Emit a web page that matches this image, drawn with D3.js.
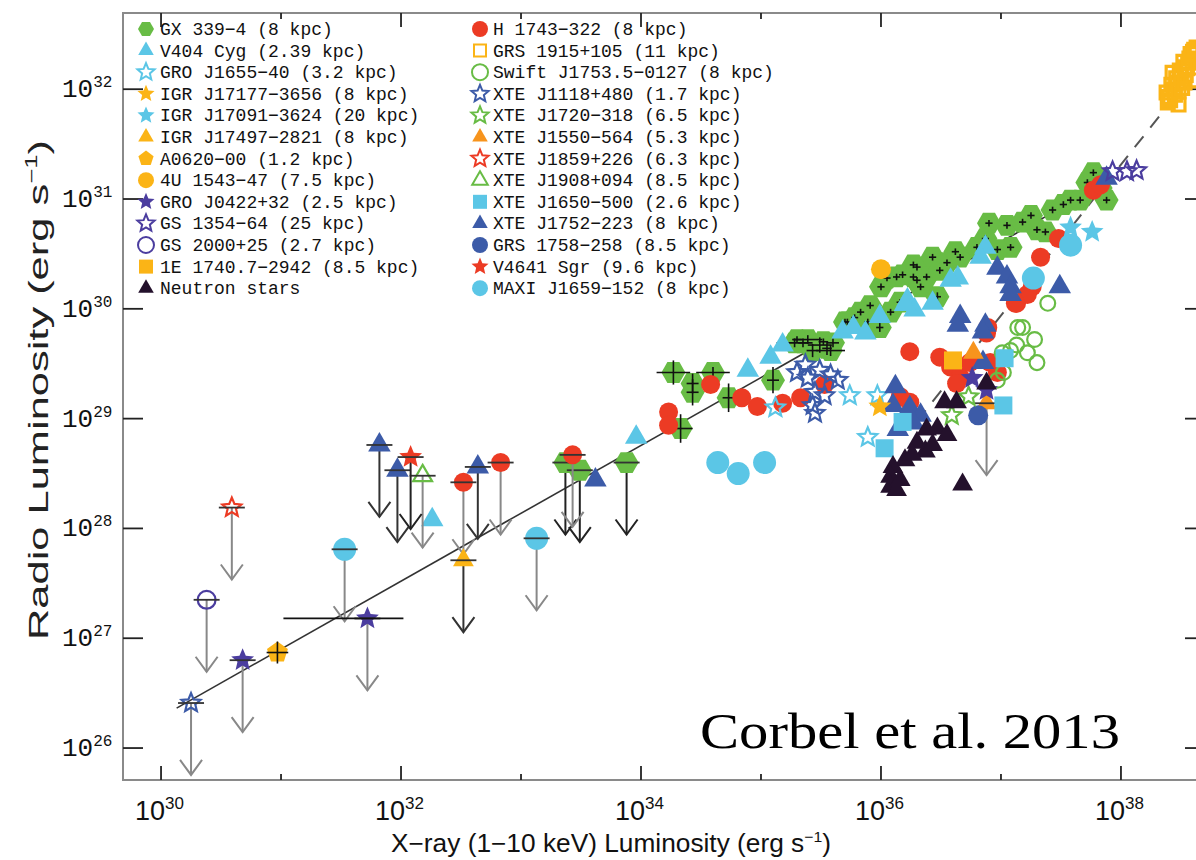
<!DOCTYPE html>
<html><head><meta charset="utf-8">
<script src="https://cdn.jsdelivr.net/npm/d3@7"></script>
<style>body{margin:0;background:#fff;} svg{display:block;}</style>
</head><body>
<svg id="chart" width="1196" height="860"></svg>
<script>
// ---------- DATA (log10 of luminosity in erg/s: [log Lx, log Lr, (xerr dex), (yerr dex)]) ----------
const xTickExps = [30, 31, 32, 33, 34, 35, 36, 37, 38];
const xLabelExps = [30, 32, 34, 36, 38];
const yTickExps = [26, 27, 28, 29, 30, 31, 32];

const gx339 = [
  [34.33,28.91,0.10,0.13],[34.27,29.42,0.14,0.11],[34.43,29.32,0.05,0.09],[34.43,29.24,0.05,0.12],
  [34.60,29.42,0.14,0.05],[34.73,29.19,0.05,0.13],[35.10,29.35,0.05,0.12],[35.28,29.69,0.15,0.04],
  [35.39,29.72,0.12,0.04],[35.49,29.67,0.10,0.07],[35.58,29.62,0.12,0.05],[35.43,29.62,0.05,0.06],
  [35.60,29.69,0.05,0.04],[35.35,29.69,0.04,0.04],[35.55,29.64,0.04,0.06],[35.72,29.88,0.03,0.03],
  [35.78,29.92,0.03,0.03],[35.83,29.97,0.03,0.03],[35.91,30.03,0.03,0.03],[35.99,29.83,0.03,0.04],
  [36.08,29.97,0.03,0.03],[36.16,30.06,0.03,0.03],[36.00,30.20,0.03,0.03],[36.05,30.28,0.03,0.03],
  [36.13,30.29,0.03,0.03],[36.27,30.40,0.03,0.03],[36.30,30.26,0.03,0.03],[36.18,30.31,0.03,0.03],
  [36.30,30.38,0.03,0.03],[36.43,30.47,0.03,0.03],[36.55,30.42,0.03,0.03],[36.66,30.47,0.03,0.03],
  [36.80,30.56,0.03,0.03],[37.05,30.76,0.03,0.03],[37.08,30.56,0.03,0.03],[37.30,30.72,0.03,0.03],
  [37.43,30.90,0.03,0.03],[37.58,30.99,0.03,0.03],[37.72,31.15,0.03,0.03],[37.77,31.24,0.03,0.03],
  [37.88,30.99,0.03,0.03],[36.33,30.20,0.03,0.03],[36.47,30.11,0.03,0.04],[36.38,30.29,0.03,0.03],
  [36.27,30.29,0.03,0.03],[35.30,29.72,0.04,0.03],[35.52,29.70,0.04,0.03],[35.70,29.88,0.03,0.03],
  [35.89,29.88,0.03,0.03],[36.87,30.64,0.03,0.03],[36.97,30.54,0.03,0.03],[37.18,30.79,0.03,0.03],
  [37.37,30.70,0.03,0.03],[37.52,30.95,0.03,0.03],[37.66,30.99,0.03,0.03],[37.83,31.10,0.03,0.03],
  [36.49,30.35,0.03,0.03],[36.62,30.52,0.03,0.03],[36.90,30.78,0.03,0.03],[37.25,30.85,0.03,0.03]
];
const gx339UL = [[33.37,28.60],[33.49,28.53],[33.88,28.60]];
const v404 = [
  [32.26,28.08],[33.96,28.83],[34.89,29.44],[35.08,29.56],[35.18,29.67],[35.68,29.79],[35.77,29.83],
  [35.87,29.78],[35.99,29.93],[36.22,30.08],[36.28,29.99],[36.43,30.05],[36.64,30.28],[36.58,30.26],
  [36.87,30.56],[36.83,30.47],[36.20,30.04]
];
const gro1655 = [[35.12,29.10],[35.74,29.21],[35.89,28.83],[35.97,29.21]];
const igr17177 = [[35.99,29.11]];
const igr17091 = [[37.58,30.74],[37.76,30.70]];
const igr17497UL = [[32.52,27.71]];
const a0620 = [[30.97,26.87,0.09,0.10]];
const u1543 = [[36.00,30.36]];
const gro0422 = [[36.76,29.37],[36.88,29.26]];
const gro0422UL = [[30.68,26.80],[31.72,27.18]];
const gs1354 = [[37.93,31.25],[38.05,31.25],[38.13,31.26]];
const gs2000UL = [[30.38,27.35]];
const e1740 = [[36.60,29.53]];
const neutronStars = [
  [36.53,29.15],[36.63,29.15],[36.38,28.90],[36.47,28.91],[36.55,28.85],[36.30,28.78],[36.37,28.70],
  [36.43,28.76],[36.20,28.62],[36.10,28.56],[36.08,28.47],[36.08,28.38],[36.13,28.35],[36.68,28.40],
  [36.88,29.32],[36.26,28.67],[36.16,28.44]
];
const h1743 = [
  [34.23,29.06],[34.23,28.94],[34.58,29.31],[34.84,29.19],[34.97,29.11],[35.18,29.14],[35.33,29.19],
  [35.53,29.31],[36.24,29.61],[36.49,29.56],[36.58,29.47],[36.66,29.38],[36.63,29.32],[36.74,29.51],
  [36.91,29.51],[36.88,29.78],[36.97,29.42],[36.16,29.20],[36.24,29.15],[37.77,31.08],[37.48,30.64],
  [37.33,30.47],[37.26,30.20],[37.13,30.05],[36.89,29.83],[37.22,30.13],[37.12,30.05],[37.83,31.13]
];
const h1743UL = [[32.52,28.42],[32.83,28.60],[33.43,28.67]];
const grs1915 = [
  [38.41,31.90],[38.38,31.97],[38.42,32.04],[38.45,31.95],[38.48,31.86],[38.46,32.10],[38.51,32.01],
  [38.49,32.17],[38.54,32.13],[38.52,32.25],[38.57,32.28],[38.55,32.19],[38.60,32.34],[38.62,32.25],
  [38.59,32.08],[38.39,31.88],[38.43,32.15],[38.63,32.38],[38.40,31.93],[38.44,32.00],[38.47,32.06],
  [38.50,32.12],[38.53,32.20],[38.56,32.24],[38.58,32.32],[38.61,32.36],[38.48,31.98],[38.53,32.06]
];
const swift1753 = [
  [37.39,30.05],[37.14,29.83],[37.18,29.83],[37.28,29.72],[37.22,29.60],[37.30,29.51],[37.08,29.62],
  [37.01,29.60],[37.13,29.67],[36.97,29.35],[37.02,29.42]
];
const xte1118 = [
  [35.30,29.42],[35.39,29.37],[35.49,29.44],[35.58,29.40],[35.45,29.24],[35.53,29.21],[35.64,29.35],
  [35.43,29.12],[35.45,29.05],[35.37,29.49]
];
const xte1118UL = [[30.25,26.41]];
const xte1720 = [[36.73,29.20],[36.59,29.03]];
const xte1550 = [[36.77,29.60]];
const xte1550UL = [[36.88,29.14]];
const xte1859UL = [[30.59,28.19]];
const xte1908UL = [[32.18,28.48]];
const xte1650 = [[36.03,28.73],[37.02,29.12],[36.18,28.97],[37.03,29.55]];
const xte1752 = [
  [33.62,28.44],[36.97,30.37],[37.05,30.29],[37.08,30.20],[37.49,30.20],[36.66,29.93],[36.87,29.85],
  [37.88,31.19],[36.85,29.51],[36.64,29.85],[36.85,29.79],[36.12,29.29],[36.10,29.12],[36.24,29.10],
  [36.33,29.03],[36.27,28.96],[36.14,28.90],[37.08,30.13]
];
const xte1752UL = [[31.82,28.76],[31.97,28.53],[32.64,28.56]];
const grs1758 = [[36.81,29.03]];
const v4641UL = [[32.08,28.65]];
const maxi1659 = [[34.64,28.60],[34.81,28.50],[35.03,28.60],[37.27,30.28],[37.58,30.58]];
const maxi1659UL = [[31.53,27.81],[33.13,27.91]];
// standalone X-ray error bar: [log Lx min, log Lx max, log Lr]
const extraXErr = [[31.02, 32.02, 27.18]];
// fits
const fitStandard = {x: [30.13, 37.90], x0: 30.13, y0: 26.364, slope: 0.618};
const fitSteep = {x: [36.30, 38.42], x0: 36.39, y0: 29.10, slope: 1.375};
const ulArrowDex = 0.655;

const legendLeft = ["GX 339\u22124 (8 kpc)","V404 Cyg (2.39 kpc)","GRO J1655\u221240 (3.2 kpc)",
  "IGR J17177\u22123656 (8 kpc)","IGR J17091\u22123624 (20 kpc)","IGR J17497\u22122821 (8 kpc)",
  "A0620\u221200 (1.2 kpc)","4U 1543\u221247 (7.5 kpc)","GRO J0422+32 (2.5 kpc)","GS 1354\u221264 (25 kpc)",
  "GS 2000+25 (2.7 kpc)","1E 1740.7\u22122942 (8.5 kpc)","Neutron stars"];
const legendRight = ["H 1743\u2212322 (8 kpc)","GRS 1915+105 (11 kpc)","Swift J1753.5\u22120127 (8 kpc)",
  "XTE J1118+480 (1.7 kpc)","XTE J1720\u2212318 (6.5 kpc)","XTE J1550\u2212564 (5.3 kpc)",
  "XTE J1859+226 (6.3 kpc)","XTE J1908+094 (8.5 kpc)","XTE J1650\u2212500 (2.6 kpc)",
  "XTE J1752\u2212223 (8 kpc)","GRS 1758\u2212258 (8.5 kpc)","V4641 Sgr (9.6 kpc)","MAXI J1659\u2212152 (8 kpc)"];

// ---------- STYLE ----------
const C = {green:"#68bc45", cyan:"#5bc6e6", red:"#ec3b24", gold:"#fbb416", orange:"#f7941d",
  blue:"#3c5ba8", indigo:"#4b3d9f", dark:"#24112c"};

const shapes = {
  circle:{draw(c,r){c.moveTo(r,0);c.arc(0,0,r,0,2*Math.PI);c.closePath();}},
  triangle:{draw(c,r){c.moveTo(0,-r);c.lineTo(r*0.866,r*0.5);c.lineTo(-r*0.866,r*0.5);c.closePath();}},
  square:{draw(c,r){c.rect(-r,-r,2*r,2*r);}},
  star:{draw(c,r){for(let i=0;i<10;i++){const a=-Math.PI/2+i*Math.PI/5,rr=i%2?r*0.45:r;
    const px=rr*Math.cos(a),py=rr*Math.sin(a); if(i) c.lineTo(px,py); else c.moveTo(px,py);} c.closePath();}},
  hexagon:{draw(c,r){for(let i=0;i<6;i++){const a=i*Math.PI/3;const px=r*Math.cos(a),py=r*Math.sin(a);
    if(i) c.lineTo(px,py); else c.moveTo(px,py);} c.closePath();}},
  pentagon:{draw(c,r){for(let i=0;i<5;i++){const a=-Math.PI/2+i*2*Math.PI/5;const px=r*Math.cos(a),py=r*Math.sin(a);
    if(i) c.lineTo(px,py); else c.moveTo(px,py);} c.closePath();}}
};
const sym = (shape, r) => d3.symbol().type(shapes[shape]).size(r)();

const series = [
  {d:gx339, ul:gx339UL, shape:"hexagon", color:C.green, fill:true, r:12, err:true, arrow:"#222"},
  {d:v404, shape:"triangle", color:C.cyan, fill:true, r:13},
  {d:h1743, ul:h1743UL, shape:"circle", color:C.red, fill:true, r:9.5, arrow:"#888"},
  {d:maxi1659, ul:maxi1659UL, shape:"circle", color:C.cyan, fill:true, r:11.5, arrow:"#888"},
  {d:swift1753, shape:"circle", color:C.green, fill:false, r:8.5},
  {d:xte1118, ul:xte1118UL, shape:"star", color:C.blue, fill:false, r:11, arrow:"#888"},
  {d:gro1655, shape:"star", color:C.cyan, fill:false, r:11},
  {d:xte1752, ul:xte1752UL, shape:"triangle", color:C.blue, fill:true, r:13, arrow:"#333"},
  {d:gs1354, shape:"star", color:C.indigo, fill:false, r:11},
  {d:grs1915, shape:"square", color:C.gold, fill:false, r:8, sw:3.2},
  {d:igr17091, shape:"star", color:C.cyan, fill:true, r:12},
  {d:u1543, shape:"circle", color:C.gold, fill:true, r:10},
  {d:e1740, shape:"square", color:C.gold, fill:true, r:9},
  {d:igr17177, shape:"star", color:C.gold, fill:true, r:12},
  {d:xte1550, ul:xte1550UL, shape:"triangle", color:C.orange, fill:true, r:12, arrow:"#888"},
  {d:[], ul:igr17497UL, shape:"triangle", color:C.gold, fill:true, r:12, arrow:"#333"},
  {d:a0620, shape:"pentagon", color:C.gold, fill:true, r:11, err:true},
  {d:xte1650, shape:"square", color:C.cyan, fill:true, r:9},
  {d:grs1758, shape:"circle", color:C.blue, fill:true, r:10},
  {d:xte1720, shape:"star", color:C.green, fill:false, r:11},
  {d:gro0422, ul:gro0422UL, shape:"star", color:C.indigo, fill:true, r:12, arrow:"#888"},
  {d:neutronStars, shape:"triangle", color:C.dark, fill:true, r:12},
  {d:[], ul:xte1859UL, shape:"star", color:C.red, fill:false, r:11, arrow:"#888"},
  {d:[], ul:gs2000UL, shape:"circle", color:C.indigo, fill:false, r:10, arrow:"#888"},
  {d:[], ul:xte1908UL, shape:"triangle", color:C.green, fill:false, r:12, arrow:"#888"},
  {d:[], ul:v4641UL, shape:"star", color:C.red, fill:true, r:12, arrow:"#222"}
];

const legendSym = [
  ["hexagon",C.green,true],["triangle",C.cyan,true],["star",C.cyan,false],["star",C.gold,true],
  ["star",C.cyan,true],["triangle",C.gold,true],["pentagon",C.gold,true],["circle",C.gold,true],
  ["star",C.indigo,true],["star",C.indigo,false],["circle",C.indigo,false],["square",C.gold,true],
  ["triangle",C.dark,true]];
const legendSymR = [
  ["circle",C.red,true],["square",C.gold,false],["circle",C.green,false],["star",C.blue,false],
  ["star",C.green,false],["triangle",C.orange,true],["star",C.red,false],["triangle",C.green,false],
  ["square",C.cyan,true],["triangle",C.blue,true],["circle",C.blue,true],["star",C.red,true],
  ["circle",C.cyan,true]];

// ---------- LAYOUT ----------
const frame = {left:123, right:1207, top:13, bottom:780};
const legendTop = 29, legendStep = 21.6;
const svg = d3.select("#chart");
const x = d3.scaleLog().domain([10**29.683, 10**38.717]).range([frame.left, frame.right]);
const y = d3.scaleLog().domain([10**25.709, 10**32.694]).range([frame.bottom, frame.top]);
const X = v => x(10**v), Y = v => y(10**v);

svg.append("rect").attr("x",frame.left).attr("y",frame.top)
  .attr("width",frame.right-frame.left).attr("height",frame.bottom-frame.top)
  .attr("fill","none").attr("stroke","#8a8a8a").attr("stroke-width",2);

const tg = svg.append("g").attr("stroke","#222").attr("stroke-width",1.8);
xTickExps.forEach(e => {
  const len = xLabelExps.includes(e) ? 14 : 6;
  const px = x(10**e);
  tg.append("line").attr("x1",px).attr("x2",px).attr("y1",frame.bottom).attr("y2",frame.bottom-len);
  tg.append("line").attr("x1",px).attr("x2",px).attr("y1",frame.top).attr("y2",frame.top+len);
});
yTickExps.forEach(e => {
  const py = y(10**e);
  tg.append("line").attr("x1",frame.left).attr("x2",frame.left+20).attr("y1",py).attr("y2",py);
  tg.append("line").attr("x1",frame.right).attr("x2",frame.right-22).attr("y1",py).attr("y2",py);
});

xLabelExps.forEach(e => {
  const t = svg.append("text").attr("x", x(10**e)-26).attr("y", 820)
    .attr("font-family","'Liberation Sans Narrow','Liberation Sans',sans-serif").attr("font-size",27).attr("fill","#111");
  t.append("tspan").text("10");
  t.append("tspan").attr("dy",-11).attr("font-size",17).text(e);
});
yTickExps.forEach(e => {
  const t = svg.append("text").attr("x", 62).attr("y", y(10**e)+8)
    .attr("font-family","'Liberation Mono',monospace").attr("font-size",26).attr("fill","#111");
  t.append("tspan").text("10");
  t.append("tspan").attr("dy",-10).attr("font-size",16).text(e);
});

const xt = svg.append("text").attr("x",391).attr("y",852)
  .attr("font-family","'Liberation Sans Narrow','Liberation Sans',sans-serif").attr("font-size",25).attr("fill","#111")
  .attr("textLength",440).attr("lengthAdjust","spacingAndGlyphs");
xt.append("tspan").text("X\u2212ray (1\u221210 keV) Luminosity (erg s");
xt.append("tspan").attr("dy",-10).attr("font-size",15).text("\u22121");
xt.append("tspan").attr("dy",10).text(")");

const yt = svg.append("text").attr("transform","translate(48,640) rotate(-90)")
  .attr("font-family","'Liberation Sans Narrow','Liberation Sans',sans-serif").attr("font-size",27).attr("fill","#222")
  .attr("textLength",500).attr("lengthAdjust","spacingAndGlyphs");
yt.append("tspan").text("Radio Luminosity (erg s");
yt.append("tspan").attr("dy",-11).attr("font-size",16).text("\u22121");
yt.append("tspan").attr("dy",11).text(")");

const line = d3.line().x(d => X(d[0])).y(d => Y(d[1]));
const fitPts = f => f.x.map(v => [v, f.y0 + f.slope*(v - f.x0)]);
svg.append("path").attr("d", line(fitPts(fitStandard))).attr("fill","none").attr("stroke","#333").attr("stroke-width",1.6);
svg.append("path").attr("d", line(fitPts(fitSteep))).attr("fill","none").attr("stroke","#555")
  .attr("stroke-width",2).attr("stroke-dasharray","14,11");

const pg = svg.append("g");
function drawMarker(g, s, p) {
  const sw = s.sw || 2.2;
  g.append("path").attr("d", sym(s.shape, s.fill ? s.r : s.r - sw/2))
    .attr("transform", `translate(${X(p[0])},${Y(p[1])})`)
    .attr("fill", s.fill ? s.color : "none")
    .attr("stroke", s.color).attr("stroke-width", s.fill ? 0 : sw);
}
series.forEach(s => {
  const g = pg.append("g");
  (s.ul || []).forEach(p => {
    const px = X(p[0]), py = Y(p[1]), ty = Y(p[1]-ulArrowDex);
    g.append("line").attr("x1",px).attr("x2",px).attr("y1",py).attr("y2",ty)
      .attr("stroke", s.arrow).attr("stroke-width",2);
    g.append("path").attr("d",`M${px-11},${ty-15}L${px},${ty}L${px+11},${ty-15}`)
      .attr("fill","none").attr("stroke", s.arrow).attr("stroke-width",2);
  });
  s.d.forEach(p => drawMarker(g, s, p));
  (s.ul || []).forEach(p => {
    drawMarker(g, s, p);
    g.append("line").attr("x1",X(p[0])-13).attr("x2",X(p[0])+13).attr("y1",Y(p[1])).attr("y2",Y(p[1]))
      .attr("stroke","#333").attr("stroke-width",1.8);
  });
  if (s.err) s.d.forEach(p => {
    const ex = p[2] ?? 0.03, ey = p[3] ?? 0.03;
    g.append("line").attr("x1",X(p[0]-ex)).attr("x2",X(p[0]+ex)).attr("y1",Y(p[1])).attr("y2",Y(p[1]))
      .attr("stroke","#111").attr("stroke-width",1.6);
    g.append("line").attr("x1",X(p[0])).attr("x2",X(p[0])).attr("y1",Y(p[1]-ey)).attr("y2",Y(p[1]+ey))
      .attr("stroke","#111").attr("stroke-width",1.6);
  });
});
extraXErr.forEach(b => {
  pg.append("line").attr("x1",X(b[0])).attr("x2",X(b[1])).attr("y1",Y(b[2])).attr("y2",Y(b[2]))
    .attr("stroke","#111").attr("stroke-width",1.8);
});

const lg = svg.append("g").attr("font-family","'Liberation Mono',monospace").attr("font-size",18).attr("fill","#111");
function legendCol(names, syms, sx, tx) {
  names.forEach((n, i) => {
    const [shape, color, fill] = syms[i];
    const ly = legendTop + i*legendStep;
    const r = shape==="triangle" ? 9 : shape==="square" ? (fill?7:6) : shape==="star" ? 9 : 8;
    lg.append("path").attr("d", sym(shape, r)).attr("transform",`translate(${sx},${ly})`)
      .attr("fill", fill ? color : "none").attr("stroke", color).attr("stroke-width", fill ? 0 : 2);
    lg.append("text").attr("x", tx).attr("y", ly+6).text(n);
  });
}
legendCol(legendLeft, legendSym, 146, 160);
legendCol(legendRight, legendSymR, 480, 493);

svg.append("text").attr("x",700).attr("y",748).attr("font-family","'Liberation Serif',serif")
  .attr("font-size",50).attr("fill","#000").attr("textLength",420).attr("lengthAdjust","spacingAndGlyphs")
  .text("Corbel et al. 2013");
</script>
</body></html>
